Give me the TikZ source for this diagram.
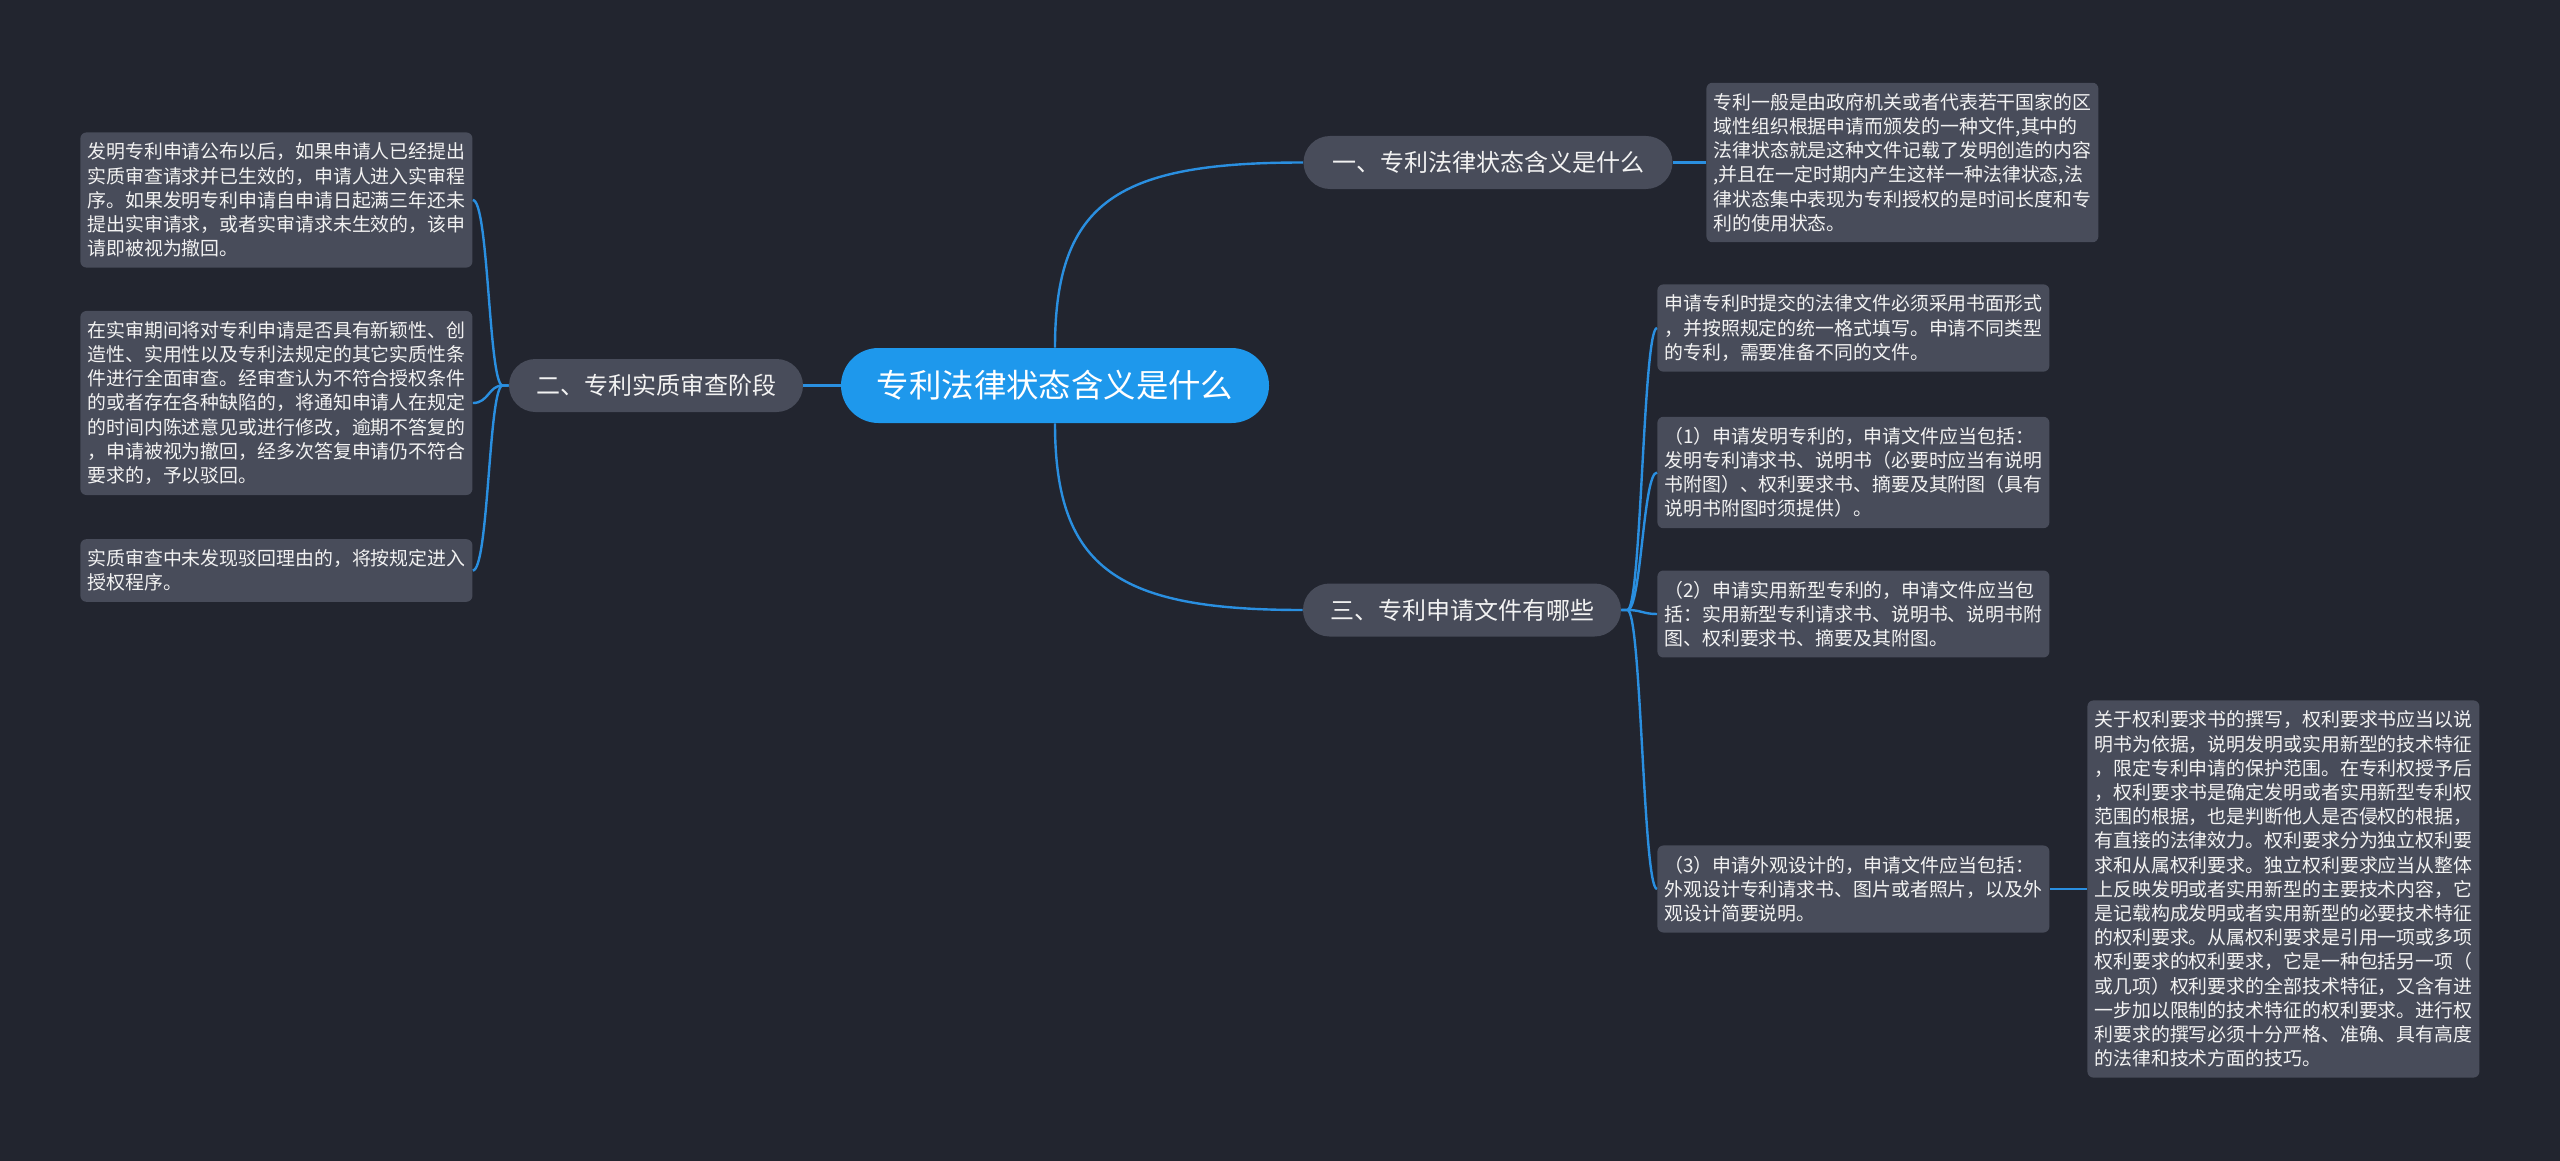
\documentclass[tikz,border=0pt]{standalone}
\usepackage{fontspec}
\setmainfont{Noto Sans CJK SC}
\usetikzlibrary{shapes.misc}
\definecolor{bgc}{HTML}{22252F}
\definecolor{leafc}{HTML}{484C5A}
\definecolor{rootc}{HTML}{1E98EC}
\definecolor{linec}{HTML}{2A8FE0}
\definecolor{txtc}{HTML}{F2F2F2}
\begin{document}
\begin{tikzpicture}[x=0.5pt,y=-0.5pt,
  rootnode/.style={shape=rounded rectangle, fill=rootc, text=white, inner xsep=0pt,
    font=\fontsize{16.2pt}{20pt}\selectfont, minimum width=214pt, minimum height=37.5pt},
  lvl/.style={shape=rounded rectangle, fill=leafc, text=txtc, inner xsep=0pt,
    font=\fontsize{12pt}{14pt}\selectfont, minimum height=26.5pt},
  leaf/.style={fill=leafc, rounded corners=3pt, text=txtc, anchor=west,
    font=\fontsize{9.45pt}{12.1pt}\selectfont, align=left, text width=189pt,
    inner xsep=3.5pt, inner ysep=5.2pt},
  conn/.style={draw=linec, line width=1.2pt}
]
\fill[bgc] (0,0) rectangle (2560,1161);
\useasboundingbox (0,0) rectangle (2560,1161);

% main nodes
\node[rootnode] (root) at (1055,385.5) {专利法律状态含义是什么};
\node[lvl, minimum width=184.5pt] (one) at (1488,162.5) {一、专利法律状态含义是什么};
\node[lvl, minimum width=147pt] (two) at (656,385.5) {二、专利实质审查阶段};
\node[lvl, minimum width=159pt] (three) at (1462,610) {三、专利申请文件有哪些};

% right of one
\node[leaf] (r1) at (1706,162.5) {专利一般是由政府机关或者代表若干国家的区\\域性组织根据申请而颁发的一种文件,其中的\\法律状态就是这种文件记载了发明创造的内容\\,并且在一定时期内产生这样一种法律状态,法\\律状态集中表现为专利授权的是时间长度和专\\利的使用状态。};

% left leaves
\node[leaf] (l1) at (80,200) {发明专利申请公布以后，如果申请人已经提出\\实质审查请求并已生效的，申请人进入实审程\\序。如果发明专利申请自申请日起满三年还未\\提出实审请求，或者实审请求未生效的，该申\\请即被视为撤回。};
\node[leaf] (l2) at (80,403) {在实审期间将对专利申请是否具有新颖性、创\\造性、实用性以及专利法规定的其它实质性条\\件进行全面审查。经审查认为不符合授权条件\\的或者存在各种缺陷的，将通知申请人在规定\\的时间内陈述意见或进行修改，逾期不答复的\\，申请被视为撤回，经多次答复申请仍不符合\\要求的，予以驳回。};
\node[leaf] (l3) at (80,570.5) {实质审查中未发现驳回理由的，将按规定进入\\授权程序。};

% children of three
\node[leaf] (c1) at (1657,328) {申请专利时提交的法律文件必须采用书面形式\\，并按照规定的统一格式填写。申请不同类型\\的专利，需要准备不同的文件。};
\node[leaf] (c2) at (1657,472.5) {（1）申请发明专利的，申请文件应当包括：\\发明专利请求书、说明书（必要时应当有说明\\书附图）、权利要求书、摘要及其附图（具有\\说明书附图时须提供）。};
\node[leaf] (c3) at (1657,614) {（2）申请实用新型专利的，申请文件应当包\\括：实用新型专利请求书、说明书、说明书附\\图、权利要求书、摘要及其附图。};
\node[leaf] (c4) at (1657,889) {（3）申请外观设计的，申请文件应当包括：\\外观设计专利请求书、图片或者照片，以及外\\观设计简要说明。};
\node[leaf] (d) at (2087,889) {关于权利要求书的撰写，权利要求书应当以说\\明书为依据，说明发明或实用新型的技术特征\\，限定专利申请的保护范围。在专利权授予后\\，权利要求书是确定发明或者实用新型专利权\\范围的根据，也是判断他人是否侵权的根据，\\有直接的法律效力。权利要求分为独立权利要\\求和从属权利要求。独立权利要求应当从整体\\上反映发明或者实用新型的主要技术内容，它\\是记载构成发明或者实用新型的必要技术特征\\的权利要求。从属权利要求是引用一项或多项\\权利要求的权利要求，它是一种包括另一项（\\或几项）权利要求的全部技术特征，又含有进\\一步加以限制的技术特征的权利要求。进行权\\利要求的撰写必须十分严格、准确、具有高度\\的法律和技术方面的技巧。};

% connectors
\draw[conn] (root.north) .. controls +(0,-148) and +(-183,0) .. (one.west);
\draw[conn] (root.south) .. controls +(0,147) and +(-183,0) .. (three.west);
\draw[conn] (root.west) -- (two.east);
\draw[conn] (one.east) -- (r1.west);
\foreach \c in {l1,l2,l3}
  \draw[conn] (two.west) -- ++(-6,0) .. controls +(-14,0) and +(16,0) .. (\c.east);
\foreach \c in {c1,c2,c3,c4}
  \draw[conn] (three.east) -- ++(6,0) .. controls +(14,0) and +(-14,0) .. (\c.west);
\draw[conn] (c4.east) -- (d.west);
\end{tikzpicture}
\end{document}
